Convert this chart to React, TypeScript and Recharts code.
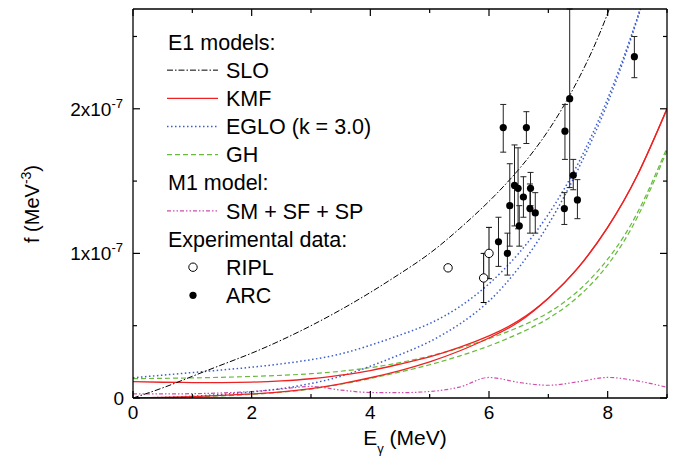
import React from 'react';
import { ComposedChart, Line, Scatter, XAxis, YAxis, ErrorBar } from 'recharts';

// photon energy grid for the model curves (MeV)
const curveX = [0, 0.5, 1, 1.5, 2, 2.5, 3, 3.5, 4, 4.5, 5, 5.5, 6, 6.5, 7, 7.5, 8, 8.5, 9];
// strength functions in units of 1e-7 MeV^-3
const sloCurve = [0, 0.07, 0.15, 0.23, 0.31, 0.4, 0.5, 0.61, 0.73, 0.86, 1.0, 1.17, 1.36, 1.58, 1.85, 2.2, 2.66, 3.3, 4.1];
const kmfUpper = [0.113, 0.109, 0.107, 0.107, 0.11, 0.118, 0.133, 0.158, 0.19, 0.235, 0.285, 0.35, 0.43, 0.535, 0.69, 0.9, 1.18, 1.54, 2.0];
const kmfLower = [0, 0.004, 0.01, 0.018, 0.028, 0.042, 0.065, 0.098, 0.14, 0.19, 0.25, 0.325, 0.415, 0.525, 0.69, 0.9, 1.18, 1.54, 2.0];
const egloUpper = [0.14, 0.158, 0.176, 0.194, 0.213, 0.236, 0.265, 0.305, 0.365, 0.435, 0.515, 0.63, 0.79, 1.0, 1.27, 1.62, 2.07, 2.63, 3.3];
const egloLower = [0, 0.004, 0.012, 0.025, 0.042, 0.065, 0.1, 0.15, 0.22, 0.3, 0.39, 0.51, 0.67, 0.9, 1.2, 1.58, 2.04, 2.62, 3.3];
const ghUpper = [0.134, 0.136, 0.139, 0.143, 0.149, 0.157, 0.168, 0.185, 0.21, 0.245, 0.29, 0.345, 0.41, 0.49, 0.59, 0.74, 0.96, 1.28, 1.73];
const ghLower = [0, 0.003, 0.008, 0.015, 0.025, 0.04, 0.062, 0.095, 0.135, 0.18, 0.23, 0.29, 0.36, 0.445, 0.55, 0.7, 0.92, 1.25, 1.71];
const m1Curve = [0.028, 0.028, 0.03, 0.035, 0.045, 0.062, 0.08, 0.055, 0.038, 0.037, 0.045, 0.075, 0.142, 0.108, 0.088, 0.112, 0.142, 0.118, 0.074];

// ARC experimental data
const arcX = [6.16, 6.24, 6.31, 6.35, 6.43, 6.49, 6.51, 6.58, 6.63, 6.69, 6.7, 6.78, 7.27, 7.28, 7.36, 7.42, 7.49, 8.45];
const arcY = [1.08, 1.87, 1.0, 1.33, 1.47, 1.45, 1.19, 1.39, 1.87, 1.31, 1.45, 1.28, 1.31, 1.845, 2.07, 1.54, 1.37, 2.36];
const arcLow = [0.91, 1.7, 0.85, 1.05, 1.19, 1.17, 1.05, 1.25, 1.76, 1.14, 1.33, 1.14, 1.2, 1.65, 1.455, 1.44, 1.24, 2.215];
const arcHigh = [1.25, 2.03, 1.14, 1.62, 1.75, 1.73, 1.33, 1.53, 1.98, 1.48, 1.56, 1.42, 1.42, 2.03, 2.69, 1.65, 1.51, 2.5];

// RIPL experimental data
const riplX = [5.31, 5.91, 6.0];
const riplY = [0.9, 0.83, 1.0];
const riplLow = [0.885, 0.66, 0.825];
const riplHigh = [0.915, 1.0, 1.18];

const xTicks = [0, 1, 2, 3, 4, 5, 6, 7, 8, 9];
const yTicks = [0, 0.5, 1, 1.5, 2, 2.5];
const yTickMantissa: Record<number, string> = { 0: '0', 1: '1x10', 2: '2x10' };
const yTickExponent = '-7';

const FONT = '"Liberation Sans", Arial, Helvetica, sans-serif';

const curveTable = curveX.map((x, i) => ({
  x,
  slo: sloCurve[i],
  kmfU: kmfUpper[i],
  kmfL: kmfLower[i],
  egloU: egloUpper[i],
  egloL: egloLower[i],
  ghU: ghUpper[i],
  ghL: ghLower[i],
  m1: m1Curve[i],
}));

const arcData = arcX.map((x, i) => ({ x, y: arcY[i], err: [arcY[i] - arcLow[i], arcHigh[i] - arcY[i]] }));
const riplData = riplX.map((x, i) => ({ x, y: riplY[i], err: [riplY[i] - riplLow[i], riplHigh[i] - riplY[i]] }));

const STYLES = {
  slo: { stroke: '#000000', dash: '6 2 1.5 2', width: 1 },
  kmf: { stroke: '#ee2222', dash: undefined as any, width: 1.3 },
  eglo: { stroke: '#3a5ccc', dash: '1.5 2.5', width: 1.5 },
  gh: { stroke: '#66bb3a', dash: '5 3', width: 1.2 },
  m1: { stroke: '#cc4fae', dash: '4 2 1.5 2 1.5 2', width: 1.2 },
};

const BottomTick = (props: any) => {
  const { x, y, payload } = props;
  const v = payload.value;
  const major = v % 2 === 0;
  return (
    <g>
      <line x1={x} x2={x} y1={y} y2={y - (major ? 7 : 4)} stroke="#000" strokeWidth={1.2} />
      {major && (
        <text x={x} y={y + 21} textAnchor="middle" fontSize={19} fontFamily={FONT} fill="#000">
          {String(v)}
        </text>
      )}
    </g>
  );
};

const TopTick = (props: any) => {
  const { x, y, payload } = props;
  const major = payload.value % 2 === 0;
  return <line x1={x} x2={x} y1={y} y2={y + (major ? 7 : 4)} stroke="#000" strokeWidth={1.2} />;
};

const LeftTick = (props: any) => {
  const { x, y, payload } = props;
  const v = payload.value;
  const major = v % 1 === 0;
  const mant = yTickMantissa[v];
  return (
    <g>
      <line x1={x} x2={x + (major ? 7 : 4)} y1={y} y2={y} stroke="#000" strokeWidth={1.2} />
      {major && mant !== undefined && (
        <text x={v === 0 ? x - 9 : x - 10} y={y + 7} textAnchor="end" fontSize={19} fontFamily={FONT} fill="#000">
          {mant}
          {v !== 0 && (
            <tspan dy={-8} fontSize={13}>
              {yTickExponent}
            </tspan>
          )}
        </text>
      )}
    </g>
  );
};

const RightTick = (props: any) => {
  const { x, y, payload } = props;
  const major = payload.value % 1 === 0;
  return <line x1={x} x2={x - (major ? 7 : 4)} y1={y} y2={y} stroke="#000" strokeWidth={1.2} />;
};

const OpenCircle = (props: any) => (
  <circle cx={props.cx} cy={props.cy} r={4.2} fill="#fff" stroke="#000" strokeWidth={1} />
);
const FilledCircle = (props: any) => <circle cx={props.cx} cy={props.cy} r={3.6} fill="#000" stroke="none" />;

const legendRows = [
  { kind: 'header', label: 'E1 models:' },
  { kind: 'line', label: 'SLO', style: STYLES.slo },
  { kind: 'line', label: 'KMF', style: STYLES.kmf },
  { kind: 'line', label: 'EGLO (k = 3.0)', style: STYLES.eglo },
  { kind: 'line', label: 'GH', style: STYLES.gh },
  { kind: 'header', label: 'M1 model:' },
  { kind: 'line', label: 'SM + SF + SP', style: STYLES.m1 },
  { kind: 'header', label: 'Experimental data:' },
  { kind: 'open', label: 'RIPL' },
  { kind: 'filled', label: 'ARC' },
];

const Overlay = () => (
  <svg
    width={685}
    height={472}
    style={{ position: 'absolute', left: 0, top: 0, pointerEvents: 'none' }}
  >
    {legendRows.map((r: any, i) => {
      const cy = 42 + i * 28.15;
      const textX = r.kind === 'header' ? 168 : 226;
      return (
        <g key={i}>
          {r.kind === 'line' && (
            <line
              x1={167}
              x2={218}
              y1={cy}
              y2={cy}
              stroke={r.style.stroke}
              strokeWidth={r.style.width}
              strokeDasharray={r.style.dash}
            />
          )}
          {r.kind === 'open' && <circle cx={193} cy={cy} r={4.2} fill="#fff" stroke="#000" />}
          {r.kind === 'filled' && <circle cx={193} cy={cy} r={3.6} fill="#000" />}
          <text x={textX} y={cy + 7.7} fontSize={21.5} fontFamily={FONT} fill="#000">
            {r.label}
          </text>
        </g>
      );
    })}
    <text
      transform="translate(39,204) rotate(-90)"
      textAnchor="middle"
      fontSize={20}
      fontFamily={FONT}
      fill="#000"
    >
      f (MeV
      <tspan dy={-8} fontSize={14}>
        -3
      </tspan>
      <tspan dy={8}>)</tspan>
    </text>
    <text x={405} y={445} textAnchor="middle" fontSize={21} fontFamily={FONT} fill="#000">
      E
      <tspan dy={8} fontSize={13}>
        γ
      </tspan>
      <tspan dy={-8}> (MeV)</tspan>
    </text>
  </svg>
);

const CURVES = [
  { key: 'm1', s: STYLES.m1, interp: 'monotone' },
  { key: 'ghL', s: STYLES.gh, interp: 'natural' },
  { key: 'ghU', s: STYLES.gh, interp: 'natural' },
  { key: 'egloL', s: STYLES.eglo, interp: 'natural' },
  { key: 'egloU', s: STYLES.eglo, interp: 'natural' },
  { key: 'kmfL', s: STYLES.kmf, interp: 'natural' },
  { key: 'kmfU', s: STYLES.kmf, interp: 'natural' },
  { key: 'slo', s: STYLES.slo, interp: 'natural' },
];

export default function App() {
  return (
    <div style={{ position: 'absolute', left: 0, top: 0, width: 685, height: 472, background: '#fff' }}>
      <ComposedChart
        width={685}
        height={472}
        data={curveTable}
        margin={{ top: 0, right: 0, bottom: 0, left: 0 }}
      >
        <XAxis
          xAxisId="bottom"
          dataKey="x"
          type="number"
          domain={[0, 9]}
          ticks={xTicks}
          orientation="bottom"
          height={74}
          tickSize={0}
          tickMargin={0}
          tick={<BottomTick />}
          axisLine={{ stroke: '#000', strokeWidth: 1.3 }}
          allowDataOverflow
          interval={0}
        />
        <XAxis
          xAxisId="top"
          dataKey="x"
          type="number"
          domain={[0, 9]}
          ticks={xTicks}
          orientation="top"
          height={9}
          tickSize={0}
          tickMargin={0}
          tick={<TopTick />}
          axisLine={{ stroke: '#000', strokeWidth: 1.3 }}
          allowDataOverflow
          interval={0}
        />
        <YAxis
          yAxisId="left"
          type="number"
          domain={[0, 2.69]}
          ticks={yTicks}
          orientation="left"
          width={133}
          tickSize={0}
          tickMargin={0}
          tick={<LeftTick />}
          axisLine={{ stroke: '#000', strokeWidth: 1.3 }}
          allowDataOverflow
          interval={0}
        />
        <YAxis
          yAxisId="right"
          type="number"
          domain={[0, 2.69]}
          ticks={yTicks}
          orientation="right"
          width={18}
          tickSize={0}
          tickMargin={0}
          tick={<RightTick />}
          axisLine={{ stroke: '#000', strokeWidth: 1.3 }}
          allowDataOverflow
          interval={0}
        />
        {CURVES.map((c) => (
          <Line
            key={c.key}
            xAxisId="bottom"
            yAxisId="left"
            dataKey={c.key}
            type={c.interp as any}
            dot={false}
            activeDot={false}
            stroke={c.s.stroke}
            strokeWidth={c.s.width}
            strokeDasharray={c.s.dash}
            isAnimationActive={false}
          />
        ))}
        <Scatter
          xAxisId="bottom"
          yAxisId="left"
          data={riplData}
          dataKey="y"
          shape={<OpenCircle />}
          isAnimationActive={false}
        >
          <ErrorBar dataKey="err" direction="y" width={3} stroke="#000" strokeWidth={1} />
        </Scatter>
        <Scatter
          xAxisId="bottom"
          yAxisId="left"
          data={arcData}
          dataKey="y"
          shape={<FilledCircle />}
          isAnimationActive={false}
        >
          <ErrorBar dataKey="err" direction="y" width={3} stroke="#222" strokeWidth={1} />
        </Scatter>
      </ComposedChart>
      <Overlay />
    </div>
  );
}
